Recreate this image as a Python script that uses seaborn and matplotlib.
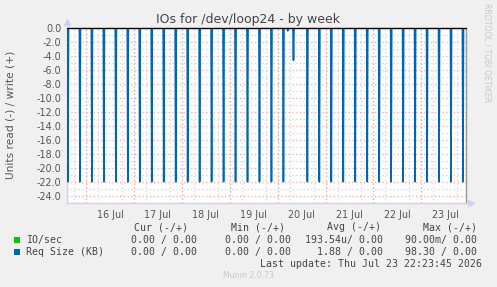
import matplotlib
matplotlib.use("Agg")
import matplotlib.pyplot as plt
import seaborn as sns
import pandas as pd
from matplotlib.lines import Line2D
from matplotlib.patches import Rectangle

# ---------------- data ----------------
# time axis in days of July 2026 (e.g. 16.5 = 16 Jul 12:00)
x_start = 15.600
x_end = 23.933
req_event_times = [15.62, 15.87, 16.12, 16.37, 16.62, 16.87, 17.12, 17.37, 17.62, 17.87,
                   18.12, 18.37, 18.62, 18.87, 19.12, 19.37, 19.62, 19.87, 20.12,
                   20.21, 20.33,
                   20.62, 20.87, 21.12, 21.37, 21.62, 21.87, 22.12, 22.37, 22.62, 22.87,
                   23.12, 23.37, 23.62, 23.87]
req_event_values = [-22.0, -22.0, -22.0, -22.0, -22.0, -22.0, -22.0, -22.0, -22.0, -22.0,
                    -22.0, -22.0, -22.0, -22.0, -22.0, -22.0, -22.0, -22.0, -22.0,
                    -0.4, -4.6,
                    -22.0, -22.0, -22.0, -22.0, -22.0, -22.0, -22.0, -22.0, -22.0, -22.0,
                    -22.0, -22.0, -22.0, -22.0]

y_ticks = [0, -2, -4, -6, -8, -10, -12, -14, -16, -18, -20, -22, -24]
y_tick_labels = ["0.0", "-2.0", "-4.0", "-6.0", "-8.0", "-10.0", "-12.0", "-14.0",
                 "-16.0", "-18.0", "-20.0", "-22.0", "-24.0"]
y_minor = [-1, -3, -5, -7, -9, -11, -13, -15, -17, -19, -21, -23, -25]
day_label_pos = [16.5, 17.5, 18.5, 19.5, 20.5, 21.5, 22.5, 23.5]
day_labels = ["16 Jul", "17 Jul", "18 Jul", "19 Jul", "20 Jul", "21 Jul", "22 Jul", "23 Jul"]
midnights = [16, 17, 18, 19, 20, 21, 22, 23]
six_hours = [15.75, 16.0, 16.25, 16.5, 16.75, 17.0, 17.25, 17.5, 17.75, 18.0, 18.25, 18.5,
             18.75, 19.0, 19.25, 19.5, 19.75, 20.0, 20.25, 20.5, 20.75, 21.0, 21.25, 21.5,
             21.75, 22.0, 22.25, 22.5, 22.75, 23.0, 23.25, 23.5, 23.75]

legend_series = ["IO/sec", "Req Size (KB)"]
legend_colors = ["#00cc00", "#0066b3"]
cur_vals = ["0.00 / 0.00", "0.00 / 0.00"]
min_vals = ["0.00 / 0.00", "0.00 / 0.00"]
avg_vals = ["193.54u/ 0.00", "1.88 / 0.00"]
max_vals = ["90.00m/ 0.00", "98.30 / 0.00"]

# build the line series (zero baseline with narrow excursions)
times = [x_start]
vals = [0.0]
hw = 0.011
for t, v in zip(req_event_times, req_event_values):
    times += [t - hw, t, t + hw]
    vals += [0.0, v, 0.0]
times.append(x_end)
vals.append(0.0)
df = pd.DataFrame({"time": times, "value": vals})

# ---------------- style ----------------
sns.set_style("white")
plt.rcParams["font.family"] = ["DejaVu Sans"]
plt.rcParams["axes.unicode_minus"] = False

W, H = 497, 287
fig = plt.figure(figsize=(W / 100, H / 100), dpi=100, facecolor="#f0f0f0")
L, R, T, B = 67, 466, 28, 203
ax = fig.add_axes([L / W, 1 - B / H, (R - L) / W, (B - T) / H])
ax.set_facecolor("white")

def fp(x, y):
    return x / W, 1 - y / H

ax.set_xlim(x_start, x_end)
ax.set_ylim(-25.05, 0)

# grid
ax.set_axisbelow(True)
ax.set_yticks(y_ticks)
ax.set_yticklabels(y_tick_labels)
ax.set_yticks(y_minor, minor=True)
ax.set_xticks(day_label_pos)
ax.set_xticklabels(day_labels)
ax.set_xticks(six_hours, minor=True)
ax.grid(False)
grid_gray = "#d4d4d4"
grid_red = "#f0a8a8"
dot = (0, (1, 2))
ax.grid(which="minor", axis="both", color=grid_gray, linestyle=dot, linewidth=0.9)
ax.grid(which="major", axis="y", color=grid_red, linestyle=dot, linewidth=0.9)
for m in midnights:
    ax.axvline(m, color=grid_red, linestyle=dot, linewidth=0.9, zorder=0.6)

ax.tick_params(axis="both", which="both", length=0, labelsize=6.9, labelcolor="#555555")
ax.tick_params(axis="y", pad=4)
ax.tick_params(axis="x", pad=5)

# data
sns.lineplot(data=df, x="time", y="value", ax=ax, color="#0066b3", linewidth=1.2,
             estimator=None, sort=True, legend=False, zorder=3)
ax.axhline(0, color="black", linewidth=1.0, zorder=4, clip_on=False)

ax.set_xlabel("")
ax.set_ylabel("")

# spines
axis_col = "#ccd2f4"
for s in ["left", "bottom"]:
    ax.spines[s].set_color(axis_col)
    ax.spines[s].set_linewidth(1.0)
ax.spines["top"].set_visible(False)
ax.spines["right"].set_color("#999999")
ax.spines["right"].set_linewidth(1.0)

# arrows
fig.add_artist(Line2D([fp(67, 22)[0]], [fp(67, 22)[1]], marker="^", markersize=5,
                      color=axis_col, transform=fig.transFigure))
fig.add_artist(Line2D([fp(471, 203)[0]], [fp(471, 203)[1]], marker=">", markersize=5,
                      color=axis_col, transform=fig.transFigure))

# title and labels
fig.text(*fp(248, 19), "IOs for /dev/loop24 - by week", ha="center", va="center",
         fontsize=9, color="#444444")
fig.text(*fp(11, 115), "Units read (-) / write (+)", ha="center", va="center",
         rotation=90, fontsize=7.7, color="#555555")
fig.text(*fp(487, 53), "RRDTOOL / TOBI OETIKER", ha="center", va="center",
         rotation=270, fontsize=5.6, color="#c8c8c8")

# legend block
mono = "DejaVu Sans Mono"
lc = "#444444"
fs = 7.1
for txt, x in zip(["Cur (-/+)", "Min (-/+)", "Avg (-/+)", "Max (-/+)"], [134, 231, 327, 423]):
    fig.text(*fp(x, 227), txt, ha="left", va="center", family=mono, fontsize=fs, color=lc)
rows_y = [240, 252]
for i, name in enumerate(legend_series):
    y = rows_y[i]
    fig.add_artist(Rectangle(fp(14, y + 3), 6 / W, 6 / H, transform=fig.transFigure,
                             facecolor=legend_colors[i], edgecolor="none"))
    fig.text(*fp(26, y), name, ha="left", va="center", family=mono, fontsize=fs, color=lc)
    for col, xr in zip([cur_vals, min_vals, avg_vals, max_vals], [197, 291, 383, 477]):
        fig.text(*fp(xr, y), col[i], ha="right", va="center", family=mono, fontsize=fs, color=lc)
fig.text(*fp(482, 264), "Last update: Thu Jul 23 22:23:45 2026", ha="right", va="center",
         family=mono, fontsize=fs, color=lc)
fig.text(*fp(248, 276), "Munin 2.0.73", ha="center", va="center", fontsize=5.6,
         color="#c8c8c8")

fig.savefig("out.png", dpi=100, facecolor=fig.get_facecolor())
